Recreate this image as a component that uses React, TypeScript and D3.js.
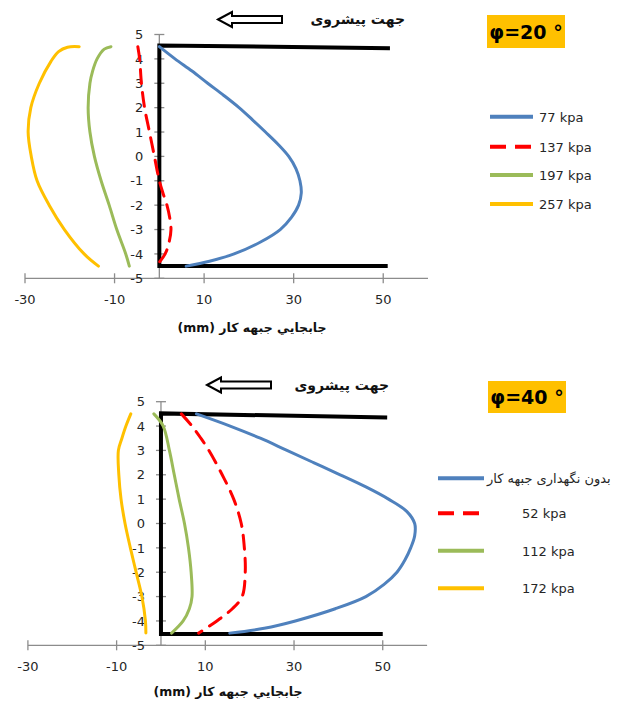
import React from "react";
import * as d3 from "d3";

// ---------- data (chart 1, φ=20°) ----------
const c1Labels = ["77 kpa", "137 kpa", "197 kpa", "257 kpa"];
const c1_77_y = [4.5, 4.0, 3.5, 3.0, 2.5, 2.0, 1.5, 1.0, 0.5, 0, -0.5, -1, -1.5, -2, -2.5, -3, -3.5, -4, -4.3, -4.5];
const c1_77_x = [0, 3.5, 7.3, 10.8, 14.4, 17.8, 20.8, 23.7, 26.5, 28.9, 30.5, 31.4, 31.7, 31.1, 29.5, 27, 22.7, 16.7, 11.2, 6];
const c1_137_y = [4.5, 4, 3, 2, 1, 0, -1, -1.5, -2, -2.5, -3, -3.5, -4, -4.5];
const c1_137_x = [-4.8, -4.4, -4.0, -3.3, -2.2, -1.1, 0, 0.8, 1.7, 2.3, 2.6, 2.2, 1.3, -0.7];
const c1_197_y = [4.5, 4.4, 4.0, 3.5, 3.0, 2.0, 1.0, 0, -1, -2, -3, -4, -4.5];
const c1_197_x = [-10.8, -12.3, -13.9, -14.9, -15.5, -15.9, -15.5, -14.5, -13, -11.2, -9.5, -7.5, -6.7];
const c1_257_y = [4.5, 4.48, 4.3, 3.9, 3.0, 2.0, 1.0, 0, -1, -2, -3, -4, -4.5];
const c1_257_x = [-17.9, -20.5, -22.5, -24.2, -26.8, -28.7, -29.3, -28.6, -27.3, -24.6, -21.2, -16.8, -13.6];
const c1FrameX = [51.5, 0, 0, 51];
const c1FrameY = [4.44, 4.55, -4.5, -4.5];

// ---------- data (chart 2, φ=40°) ----------
const c2Labels = ["بدون نگهداری جبهه کار", "52 kpa", "112 kpa", "172 kpa"];
const c2_0_y = [4.5, 4.0, 3.5, 3.0, 2.5, 2.0, 1.5, 1.0, 0.5, 0, -0.5, -1, -1.5, -2, -2.5, -3, -3.5, -4, -4.3, -4.5];
const c2_0_x = [8, 15.6, 22.4, 28.4, 34.4, 40.4, 46.2, 51.3, 55.4, 57.2, 57.2, 56.3, 55.0, 53.2, 50.3, 46.2, 39.3, 30.3, 23.3, 15.5];
const c2_52_y = [4.5, 4.0, 3.5, 3.0, 2.0, 1.0, 0, -1, -2, -3, -3.5, -4, -4.5];
const c2_52_x = [4.6, 7.0, 9.0, 10.8, 13.8, 16.4, 18.1, 18.8, 19.0, 18.3, 16.1, 12.6, 8.5];
const c2_112_y = [4.5, 4.0, 3.0, 2.0, 1.0, 0, -1, -2, -3, -3.5, -4, -4.5];
const c2_112_x = [-1.6, 0.5, 1.9, 3.0, 4.1, 5.3, 6.2, 6.8, 7.0, 6.4, 5.0, 2.4];
const c2_172_y = [4.5, 4.0, 3.5, 3.0, 2.0, 1.0, 0, -1, -2, -3, -4, -4.5];
const c2_172_x = [-6.8, -7.9, -8.8, -9.6, -9.5, -9.0, -8.1, -6.9, -5.6, -4.3, -3.5, -3.4];
const c2FrameX = [51, 0, 0, 50];
const c2FrameY = [4.35, 4.52, -4.54, -4.54];

const xTicks = [-30, -10, 10, 30, 50];
const yTicks = [5, 4, 3, 2, 1, 0, -1, -2, -3, -4, -5];
const xDomain: [number, number] = [-30, 60];
const yDomain: [number, number] = [-5, 5];

const COLORS = ["#4F81BD", "#FF0000", "#9BBB59", "#FFC000"];
const AXIS = "#8C8C8C";
const FONT = "'DejaVu Sans', sans-serif";

function zip(xs: number[], ys: number[]) {
  return xs.map((x, i) => [x, ys[i]] as [number, number]);
}

type ChartProps = {
  xRange: [number, number];
  yRange: [number, number];
  series: [number, number][][];
  frame: [number, number][];
  labels: string[];
  phi: string;
  legend: { lineX: [number, number]; textX: number; ys: number[]; rtlFirst?: boolean };
  arrow: { tipX: number; cy: number };
  dir: { x: number; y: number };
  box: { x: number; y: number; w: number; h: number };
  titleX: number;
  titleY: number;
};

function Chart(p: ChartProps) {
  const x = d3.scaleLinear().domain(xDomain).range(p.xRange);
  const y = d3.scaleLinear().domain(yDomain).range(p.yRange);
  const curve = d3
    .line<[number, number]>()
    .x((d) => x(d[0]))
    .y((d) => y(d[1]))
    .curve(d3.curveCatmullRom.alpha(0.5));
  const straight = d3
    .line<[number, number]>()
    .x((d) => x(d[0]))
    .y((d) => y(d[1]));
  const x0 = x(0);
  const yb = y(-5);
  const a = p.arrow;
  const arrowPath = `M${a.tipX},${a.cy} L${a.tipX + 14},${a.cy - 7.5} L${a.tipX + 14},${a.cy - 3.5} L${a.tipX + 64},${a.cy - 3.5} L${a.tipX + 64},${a.cy + 3.5} L${a.tipX + 14},${a.cy + 3.5} L${a.tipX + 14},${a.cy + 7.5} Z`;
  return (
    <g>
      {/* axes */}
      <line x1={x(xDomain[0])} x2={x(xDomain[1])} y1={yb} y2={yb} stroke={AXIS} strokeWidth={1.3} />
      <line x1={x0} x2={x0} y1={y(5)} y2={y(-5)} stroke={AXIS} strokeWidth={1.3} />
      {xTicks.map((t) => (
        <g key={"xt" + t}>
          <line x1={x(t)} x2={x(t)} y1={yb - 5} y2={yb + 5} stroke={AXIS} strokeWidth={1.3} />
          <text x={x(t)} y={yb + 26} textAnchor="middle" fontFamily={FONT} fontSize={13} fill="#262626">
            {t}
          </text>
        </g>
      ))}
      {yTicks.map((t) => (
        <g key={"yt" + t}>
          <line x1={x0 - 5} x2={x0 + 5} y1={y(t)} y2={y(t)} stroke={AXIS} strokeWidth={1.3} />
          <text x={x0 - 16} y={y(t) + 4.7} textAnchor="end" fontFamily={FONT} fontSize={13} fill="#262626">
            {t}
          </text>
        </g>
      ))}
      {/* frame */}
      <path d={straight(p.frame) || ""} fill="none" stroke="#000" strokeWidth={4} strokeLinejoin="miter" />
      {/* series */}
      {p.series.map((s, i) => (
        <path
          key={"s" + i}
          d={curve(s) || ""}
          fill="none"
          stroke={COLORS[i]}
          strokeWidth={3}
          strokeDasharray={i === 1 ? "14,9" : undefined}
          strokeLinecap="round"
        />
      ))}
      {/* legend */}
      {p.labels.map((l, i) => (
        <g key={"lg" + i}>
          <line
            x1={p.legend.lineX[0]}
            x2={p.legend.lineX[1]}
            y1={p.legend.ys[i]}
            y2={p.legend.ys[i]}
            stroke={COLORS[i]}
            strokeWidth={4}
            strokeDasharray={i === 1 ? "16,9" : undefined}
          />
          {p.legend.rtlFirst && i === 0 ? (
            <text x={p.legend.lineX[1] + 3} y={p.legend.ys[i] + 4.5} fontFamily={FONT} fontSize={13} fill="#262626">
              {l}
            </text>
          ) : (
            <text x={p.legend.textX} y={p.legend.ys[i] + 5} fontFamily={FONT} fontSize={13} fill="#262626">
              {l}
            </text>
          )}
        </g>
      ))}
      {/* x axis title */}
      <text x={p.titleX} y={p.titleY} textAnchor="middle" fontFamily={FONT} fontSize={12.5} fontWeight="bold" fill="#111">
        {"(mm) جابجایي جبهه کار"}
      </text>
      {/* direction arrow & label */}
      <path d={arrowPath} fill="#fff" stroke="#000" strokeWidth={2} strokeLinejoin="miter" />
      <text x={p.dir.x} y={p.dir.y} textAnchor="end" fontFamily={FONT} fontSize={14} fontWeight="bold" fill="#111">
        جهت پیشروی
      </text>
      {/* phi box */}
      <rect x={p.box.x} y={p.box.y} width={p.box.w} height={p.box.h} fill="#FFC000" />
      <text
        x={p.box.x + p.box.w / 2}
        y={p.box.y + p.box.h / 2 + 7}
        textAnchor="middle"
        fontFamily={FONT}
        fontSize={19}
        fontWeight="bold"
        fill="#000"
      >
        {p.phi}
      </text>
    </g>
  );
}

export default function App() {
  return (
    <svg
      width={622}
      height={704}
      viewBox="0 0 622 704"
      style={{ position: "absolute", left: 0, top: 0, background: "#fff" }}
    >
      <rect width={622} height={704} fill="#fff" />
      <Chart
        xRange={[25, 428]}
        yRange={[278.3, 34.5]}
        series={[zip(c1_77_x, c1_77_y), zip(c1_137_x, c1_137_y), zip(c1_197_x, c1_197_y), zip(c1_257_x, c1_257_y)]}
        frame={zip(c1FrameX, c1FrameY)}
        labels={c1Labels}
        phi="φ=20 °"
        legend={{ lineX: [490, 533], textX: 539, ys: [116.7, 146.7, 175, 204] }}
        arrow={{ tipX: 218, cy: 19.5 }}
        dir={{ x: 405, y: 24 }}
        box={{ x: 487, y: 15, w: 78, h: 33 }}
        titleX={252}
        titleY={332}
      />
      <Chart
        xRange={[27.9, 427.1]}
        yRange={[645.3, 401.7]}
        series={[zip(c2_0_x, c2_0_y), zip(c2_52_x, c2_52_y), zip(c2_112_x, c2_112_y), zip(c2_172_x, c2_172_y)]}
        frame={zip(c2FrameX, c2FrameY)}
        labels={c2Labels}
        phi="φ=40 °"
        legend={{ lineX: [438, 484], textX: 522, ys: [478.3, 513.3, 550.7, 588.3], rtlFirst: true }}
        arrow={{ tipX: 207, cy: 385 }}
        dir={{ x: 389, y: 390 }}
        box={{ x: 488, y: 381, w: 78, h: 32 }}
        titleX={228}
        titleY={696}
      />
    </svg>
  );
}
